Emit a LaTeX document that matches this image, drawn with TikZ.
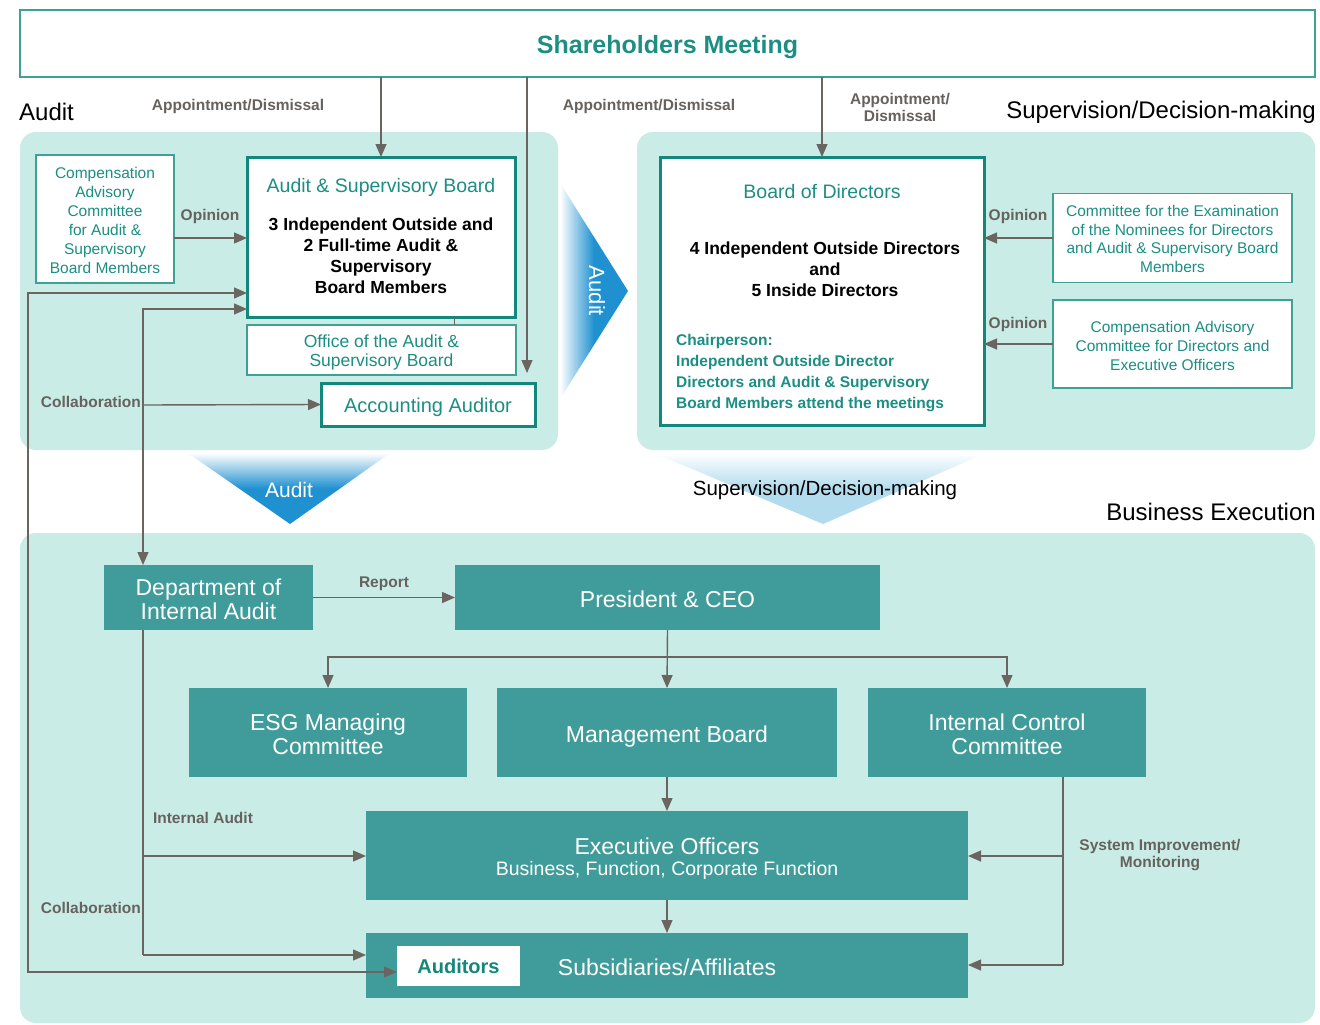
\documentclass[tikz,border=0pt]{standalone}
\usepackage{fontspec}
\setmainfont{Liberation Sans}
\usetikzlibrary{arrows.meta,calc}

\definecolor{bgc}{HTML}{C9EDE6}
\definecolor{tealfill}{HTML}{409C9A}
\definecolor{tealdark}{HTML}{14877C}
\definecolor{tealline}{HTML}{3FA096}
\definecolor{tealtxt}{HTML}{1C8E84}
\definecolor{grayline}{HTML}{6A6561}
\definecolor{graytxt}{HTML}{67625E}
\definecolor{audblue}{HTML}{1F90D0}
\definecolor{supblue}{HTML}{B2DBEE}

\tikzset{
  box/.style={inner sep=0pt, outer sep=0pt, align=center},
  wbox/.style={box, draw=tealline, line width=1.5pt, fill=white},
  tbox/.style={box, draw=tealdark, line width=3pt, fill=white},
  fbox/.style={box, fill=tealfill},
  txt/.style={inner sep=0pt, align=center},
  ttxt/.style={txt, text=tealtxt},
  wtxt/.style={txt, text=white, font=\fontsize{23}{24}\selectfont},
  lbl/.style={text=graytxt, inner sep=0pt, align=center,
    font=\bfseries\fontsize{15.5}{17}\selectfont},
  head/.style={text=black, inner sep=0pt, font=\fontsize{24}{28}\selectfont},
  ln/.style={draw=grayline, line width=1.4pt},
  tip/.tip={Triangle[length=13pt,width=11pt]},
  arr/.style={ln, -tip},
  arrboth/.style={ln, tip-tip},
}

\begin{document}
\begin{tikzpicture}[x=1pt,y=-1pt]
\useasboundingbox (0,0) rectangle (1320,1025);
\fill[white] (0,0) rectangle (1320,1025);

% shaded panels
\fill[bgc, rounded corners=16pt] (20,132) rectangle (558,450);
\fill[bgc, rounded corners=16pt] (637,132) rectangle (1315,450);
\fill[bgc, rounded corners=16pt] (20,533) rectangle (1315,1023);

% big arrows between panels
\shade[left color=white, right color=audblue, middle color=audblue]
  (560,183) -- (628,291) -- (560,399) -- cycle;
\node[text=white, rotate=-90, inner sep=0pt, font=\fontsize{22}{24}\selectfont]
  (audarrtxt) at (597,291) {Audit};
\shade[top color=white, bottom color=audblue, middle color=audblue]
  (188,453) -- (390,453) -- (290,524) -- cycle;
\node[text=white, inner sep=0pt, font=\fontsize{21}{24}\selectfont]
  (auddowntxt) at (289,490) {Audit};
\shade[top color=white, bottom color=supblue, middle color=supblue]
  (654,453) -- (986,453) -- (823,524) -- cycle;
\node[text=black, inner sep=0pt, font=\fontsize{20.5}{24}\selectfont]
  (supdowntxt) at (825,490) {Supervision/Decision-making};

% headings
\node[head, anchor=west] (hAudit) at (19,112) {Audit};
\node[head, anchor=east] (hSup) at (1316,112) {Supervision/Decision-making};
\node[head, anchor=east] (hBus) at (1316,512) {Business Execution};

% shareholders meeting
\node[box, draw=tealline, line width=2.5pt, fill=white,
  minimum width=1295pt, minimum height=67pt] (sh) at (667.5,43.5) {};
\node[ttxt, font=\bfseries\fontsize{25}{28}\selectfont]
  (shtxt) at ([yshift=-4pt]sh.center) {Shareholders Meeting};

% audit side
\node[wbox, minimum width=138pt, minimum height=128pt] (compA) at (105,219) {};
\node[ttxt, font=\fontsize{15.5}{19}\selectfont] (compAtxt) at ([yshift=-1pt]compA.center)
  {Compensation\\Advisory\\Committee\\for Audit \&\\Supervisory\\Board Members};
\node[tbox, minimum width=268pt, minimum height=160pt] (asb) at (381,237) {};
\node[ttxt, font=\fontsize{19.5}{22}\selectfont]
  (asbtitle) at (381,187) {Audit \& Supervisory Board};
\node[txt, text=black, font=\bfseries\fontsize{17.5}{21}\selectfont]
  (asbbody) at (381,256) {3 Independent Outside and\\2 Full-time Audit \&\\Supervisory\\Board Members};
\node[wbox, minimum width=269pt, minimum height=50pt] (office) at (381.5,350) {};
\node[ttxt, font=\fontsize{17.5}{19}\selectfont] (officetxt) at ([yshift=-2pt]office.center)
  {Office of the Audit \&\\Supervisory Board};
\node[tbox, minimum width=214pt, minimum height=43pt] (acc) at (428,404.5) {};
\node[ttxt, font=\fontsize{20}{22}\selectfont] (acctxt) at ([yshift=-3pt]acc.center)
  {Accounting Auditor};

% supervision side
\node[tbox, minimum width=324pt, minimum height=268pt] (bod) at (822,291) {};
\node[ttxt, font=\fontsize{19.5}{22}\selectfont]
  (bodtitle) at (822,192) {Board of Directors};
\node[txt, text=black, font=\bfseries\fontsize{17.5}{21}\selectfont]
  (bodbody) at (825,269) {4 Independent Outside Directors\\and\\5 Inside Directors};
\node[inner sep=0pt, text=tealtxt, align=left, anchor=west,
  font=\bfseries\fontsize{15.5}{20.8}\selectfont] (bodchair) at (676,373)
  {Chairperson:\\Independent Outside Director\\Directors and Audit \& Supervisory\\Board Members attend the meetings};
\node[wbox, minimum width=239pt, minimum height=89pt] (nom) at (1172.5,238) {};
\node[ttxt, font=\fontsize{15.5}{18.7}\selectfont] (nomtxt) at ([yshift=-1pt]nom.center)
  {Committee for the Examination\\of the Nominees for Directors\\and Audit \& Supervisory Board\\Members};
\node[wbox, minimum width=239pt, minimum height=88pt] (cadir) at (1172.5,344) {};
\node[ttxt, font=\fontsize{15.5}{18.7}\selectfont] (cadirtxt) at ([yshift=-2pt]cadir.center)
  {Compensation Advisory\\Committee for Directors and\\Executive Officers};

% business execution
\node[fbox, minimum width=209pt, minimum height=65pt] (dia) at (208.5,597.5) {};
\node[wtxt] (diatxt) at ([yshift=-2pt]dia.center) {Department of\\Internal Audit};
\node[fbox, minimum width=425pt, minimum height=65pt] (ceo) at (667.5,597.5) {};
\node[wtxt] (ceotxt) at ([yshift=-2pt]ceo.center) {President \& CEO};
\node[fbox, minimum width=278pt, minimum height=89pt] (esg) at (328,732.5) {};
\node[wtxt] (esgtxt) at ([yshift=-2pt]esg.center) {ESG Managing\\Committee};
\node[fbox, minimum width=340pt, minimum height=89pt] (mb) at (667,732.5) {};
\node[wtxt] (mbtxt) at ([yshift=-4pt]mb.center) {Management Board};
\node[fbox, minimum width=278pt, minimum height=89pt] (icc) at (1007,732.5) {};
\node[wtxt] (icctxt) at ([yshift=-2pt]icc.center) {Internal Control\\Committee};
\node[fbox, minimum width=602pt, minimum height=89pt] (exo) at (667,855.5) {};
\node[wtxt] (exotxt1) at (667,846) {Executive Officers};
\node[wtxt, font=\fontsize{19.5}{22}\selectfont] (exotxt2) at (667,870)
  {Business, Function, Corporate Function};
\node[fbox, minimum width=602pt, minimum height=65pt] (subs) at (667,965.5) {};
\node[wtxt] (substxt) at (667,967) {Subsidiaries/Affiliates};
\node[box, fill=white, text=tealdark, minimum width=123pt, minimum height=40pt,
  font=\bfseries\fontsize{20}{22}\selectfont] (aud) at (458.5,966) {Auditors};

% appointment / dismissal
\node[lbl] (ap1) at (238,106) {Appointment/Dismissal};
\node[lbl] (ap2) at (649,106) {Appointment/Dismissal};
\node[lbl] (ap3) at (900,107) {Appointment/\\Dismissal};
\draw[arr] (asb.north |- sh.south) -- (asb.north);
\coordinate (apx) at (527,0);
\draw[arr, shorten >=10pt] (sh.south -| apx) -- (acc.north -| apx);
\draw[arr] (bod.north |- sh.south) -- (bod.north);

% opinions
\node[lbl] (op1) at (210,216) {Opinion};
\draw[arr] ([yshift=-19pt]compA.east) -- ([yshift=-19pt]compA.east -| asb.west);
\node[lbl] (op2) at (1018,216) {Opinion};
\draw[arr] (nom.west) -- (nom.west -| bod.east);
\node[lbl] (op3) at (1018,324) {Opinion};
\draw[arr] (cadir.west) -- (cadir.west -| bod.east);

% office link
\draw[ln, line width=0.8pt] (asb.south -| 454,0) -- (office.north -| 454,0);

% collaboration lines
\draw[arrboth] (asb.west |- 0,293) -- (28,293) -- (28,972) -- (aud.west |- 0,972);
\draw[arrboth] (asb.west |- 0,309) -- (143,309) -- (dia.north -| 143,0);
\node[lbl, anchor=east] (col1) at (141,402) {Collaboration};
\draw[arr] (143,405) -- (acc.west);
\node[lbl, anchor=east] (col2) at (141,908) {Collaboration};

% internal audit
\draw[ln] (dia.south -| 143,0) -- (143,955);
\node[lbl] (ia) at (203,818) {Internal Audit};
\draw[arr] (143,856) -- (exo.west |- 0,856);
\draw[arr] (143,955) -- (subs.west |- 0,955);

% report and management chain
\node[lbl] (rep) at (384,584) {Report};
\draw[arr] (dia.east) -- (ceo.west);
\draw[arr] (ceo.south) -- (mb.north);
\draw[arr] (ceo.south |- 0,657) -| (esg.north);
\draw[arr] (ceo.south |- 0,657) -| (icc.north);
\draw[arr] (mb.south) -- (exo.north);
\draw[arr] (exo.south) -- (subs.north);

% system improvement / monitoring
\draw[ln] (icc.south -| 1063,0) -- (1063,965);
\draw[arr] (1063,856) -- (exo.east |- 0,856);
\draw[arr] (1063,965) -- (subs.east |- 0,965);
\node[lbl] (sim) at (1160,855) {System Improvement/\\Monitoring};
\end{tikzpicture}
\end{document}
